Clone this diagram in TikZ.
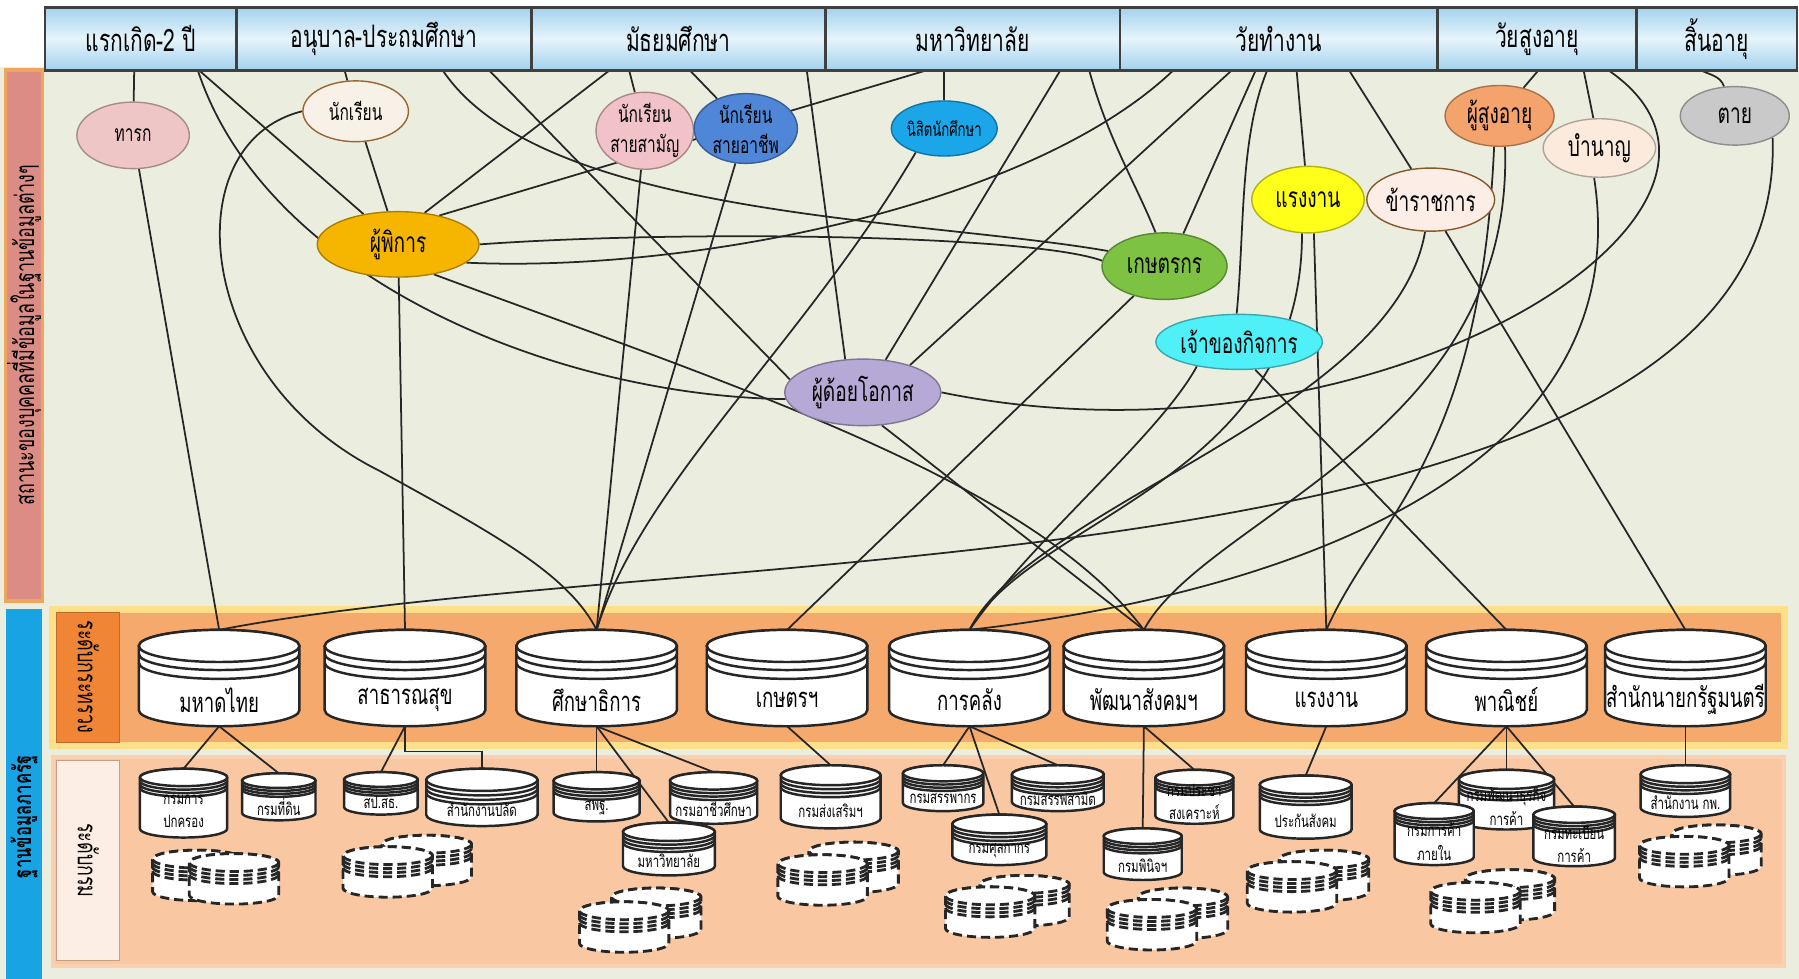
\documentclass[tikz,border=0pt]{standalone}
\usepackage{fontspec}
\newfontfamily\thai[Script=Thai,FakeStretch=0.68]{Loma}
\usetikzlibrary{positioning,shapes.geometric}

\definecolor{bggreen}{HTML}{EBEEDF}
\definecolor{hdrblue}{HTML}{A3D2EE}
\definecolor{hdrlight}{HTML}{E6F4FB}
\definecolor{statusred}{HTML}{DB8D85}
\definecolor{statusedge}{HTML}{EFA55C}
\definecolor{govblue}{HTML}{17A3E4}
\definecolor{ministryband}{HTML}{F6A96C}
\definecolor{ministryedge}{HTML}{FFE08A}
\definecolor{ministrytag}{HTML}{EF8535}
\definecolor{deptband}{HTML}{F9C8A2}
\definecolor{depttag}{HTML}{FCEEE4}
\definecolor{infantpink}{HTML}{EFC6C6}
\definecolor{pupilcream}{HTML}{F8F1E7}
\definecolor{generalpink}{HTML}{F1C3C8}
\definecolor{vocblue}{HTML}{4F86D8}
\definecolor{unicyan}{HTML}{1AA6E8}
\definecolor{disabledgold}{HTML}{F6B600}
\definecolor{farmergreen}{HTML}{7EC243}
\definecolor{underlilac}{HTML}{B6A9D5}
\definecolor{labouryellow}{HTML}{FFFF1A}
\definecolor{civilpeach}{HTML}{FCEDE6}
\definecolor{ownercyan}{HTML}{50F0F8}
\definecolor{elderorange}{HTML}{F3A36B}
\definecolor{pensionpeach}{HTML}{FCEBDC}
\definecolor{deadgrey}{HTML}{C9C9C9}

\pgfdeclarelayer{back}
\pgfdeclarelayer{wires}
\pgfsetlayers{back,wires,main}

\def\u{0.011473cm}

\tikzset{
  agecell/.style={draw=black!75, line width=0.8pt, top color=hdrblue, bottom color=hdrblue,
    middle color=hdrlight, minimum height=55*\u, inner sep=0pt, anchor=north west,
    font=\thai\fontsize{8.8}{10}\selectfont},
  status/.style={ellipse, draw=#1!70!black, fill=#1, inner sep=0pt, align=center,
    font=\thai\fontsize{6.5}{8.5}\selectfont},
  bigstatus/.style={font=\thai\fontsize{8}{10}\selectfont},
  link/.style={draw=black!85, line width=0.5pt},
  cylbody/.style={fill=white, draw=black!85, line width=0.7pt},
  ghost/.style={fill=white, draw=black!85, line width=0.8pt, dash pattern=on 2.6pt off 1.4pt},
  ministrytext/.style={font=\thai\fontsize{7.8}{10}\selectfont, inner sep=0pt},
  depttext/.style={font=\thai\fontsize{4.8}{6.6}\selectfont, inner sep=0pt, align=center},
  sidetext/.style={font=\thai\fontsize{7.5}{9}\selectfont, inner sep=0pt}
}

% cylinder outline: style, cx, top, width, height, ring offsets (in y radii)
\newcommand\cylshape[6]{%
  \pgfmathsetmacro\cylrx{#4/2}%
  \pgfmathsetmacro\cylry{#4/10}%
  \path[#1] (#2-\cylrx,#3+\cylry) -- (#2-\cylrx,#3+#5-\cylry)
    arc[start angle=180,end angle=0,x radius=\cylrx,y radius=\cylry]
    -- (#2+\cylrx,#3+\cylry)
    arc[start angle=0,end angle=-180,x radius=\cylrx,y radius=\cylry] -- cycle;
  \path[#1] (#2,#3+\cylry) ellipse[x radius=\cylrx,y radius=\cylry];
  \foreach \ringk in {#6}
    \path[#1,fill=none] (#2-\cylrx,#3+\cylry+\ringk*\cylry)
      arc[start angle=180,end angle=0,x radius=\cylrx,y radius=\cylry];
}
% ministry: name, cx, label
\newcommand\ministry[3]{%
  \cylshape{cylbody}{#2}{549}{140}{84}{0.5,1.05}
  \coordinate (#1-t) at (#2,549);
  \coordinate (#1-b) at (#2,633);
  \node[ministrytext] (#1) at (#2,610) {#3};
}
% department: [text height factor] name, cx, top, width, height, label
\newcommand\dept[7][0.72]{%
  \cylshape{cylbody}{#3}{#4}{#5}{#6}{0.4,0.8,1.2}
  \coordinate (#2-t) at (#3,#4);
  \node[depttext] (#2) at (#3,#4+#1*#6) {#7};
}
% two dashed placeholders: back cx, back top, front cx, front top
\newcommand\ghostpair[4]{%
  \cylshape{ghost}{#1}{#2}{78}{44}{0.45,0.9,1.35}
  \cylshape{ghost}{#3}{#4}{78}{44}{0.45,0.9,1.35}
}

\begin{document}
\begin{tikzpicture}[x=\u,y=-\u]
\useasboundingbox (0,0) rectangle (1568,853);

%%%%% BANDS
\begin{pgfonlayer}{back}
  \fill[white] (0,0) rectangle (1568,853);
  \fill[bggreen] (0,58) rectangle (1568,853);
  \filldraw[fill=statusred, draw=statusedge, line width=1pt] (5,61) rectangle (37,524);
  \fill[govblue] (5,531) rectangle (37,853);
  \filldraw[fill=ministryband, draw=ministryedge, line width=2pt] (46,531) rectangle (1555,650);
  \filldraw[fill=ministrytag, draw=ministrytag!80!black, line width=0.4pt] (49,534) rectangle (104,647);
  \filldraw[fill=deptband, draw=deptband!85!white, line width=1pt] (46,660) rectangle (1555,842);
  \filldraw[fill=depttag, draw=deptband!80!black, line width=0.4pt] (49,663) rectangle (104,837);
\end{pgfonlayer}

\node[sidetext, rotate=90] (statuslbl) at (21,292) {สถานะของบุคคลที่มีข้อมูลในฐานข้อมูลต่างๆ};
\node[sidetext, rotate=90, font=\thai\bfseries\fontsize{7}{9}\selectfont] (govlbl) at (21,712) {ฐานข้อมูลภาครัฐ};
\node[sidetext, rotate=-90] (ministrylbl) at (77,590) {ระดับกระทรวง};
\node[sidetext, rotate=-90] (deptlbl) at (77,750) {ระดับกรม};

%%%%% AGE HEADER
\node[agecell, minimum width=167*\u] (age1) at (38,5) {แรกเกิด-2 ปี};
\node[agecell, minimum width=257*\u] (age2) at (205,5) {อนุบาล-ประถมศึกษา};
\node[agecell, minimum width=256*\u] (age3) at (462,5) {มัธยมศึกษา};
\node[agecell, minimum width=257*\u] (age4) at (718,5) {มหาวิทยาลัย};
\node[agecell, minimum width=277*\u] (age5) at (975,5) {วัยทำงาน};
\node[agecell, minimum width=173*\u] (age6) at (1252,5) {วัยสูงอายุ};
\node[agecell, minimum width=140*\u] (age7) at (1425,5) {สิ้นอายุ};
\foreach \hx in {117,172,300,385,425,533,548,600,703,812,925,949,1024,1075,1095,1105,1130,1175,1342,1380,1400,1480}
  \coordinate (h\hx) at (\hx,60);

%%%%% STATUS OF PERSONS
\node[status=infantpink, minimum width=98*\u, minimum height=58*\u] (infant) at (116,118) {ทารก};
\node[status=pupilcream, draw=brown!80!black, minimum width=92*\u, minimum height=53*\u] (pupil) at (310,97) {นักเรียน};
\node[status=generalpink, minimum width=84*\u, minimum height=55*\u] (general) at (562,114) {นักเรียน\\สายสามัญ};
\node[status=vocblue, minimum width=90*\u, minimum height=53*\u] (vocational) at (650,112) {นักเรียน\\สายอาชีพ};
\node[status=unicyan, minimum width=88*\u, minimum height=48*\u, font=\thai\fontsize{5.5}{8}\selectfont] (undergrad) at (823,112) {นิสิตนักศึกษา};
\node[status=disabledgold, bigstatus, minimum width=141*\u, minimum height=57*\u] (disabled) at (347,213) {ผู้พิการ};
\node[status=farmergreen, bigstatus, minimum width=109*\u, minimum height=58*\u] (farmer) at (1015,232) {เกษตรกร};
\node[status=underlilac, bigstatus, minimum width=136*\u, minimum height=58*\u] (underpriv) at (752,342) {ผู้ด้อยโอกาส};
\node[status=labouryellow, bigstatus, minimum width=98*\u, minimum height=58*\u] (labour) at (1140,174) {แรงงาน};
\node[status=civilpeach, draw=brown!70!black, bigstatus, minimum width=106*\u, minimum height=55*\u] (civil) at (1247,174) {ข้าราชการ};
\node[status=ownercyan, bigstatus, minimum width=114*\u, minimum height=48*\u] (owner) at (1080,298) {เจ้าของกิจการ};
\node[status=elderorange, bigstatus, minimum width=95*\u, minimum height=53*\u] (elder) at (1307,101) {ผู้สูงอายุ};
\node[status=pensionpeach, bigstatus, minimum width=98*\u, minimum height=51*\u] (pension) at (1394,129) {บำนาญ};
\node[status=deadgrey, bigstatus, minimum width=95*\u, minimum height=51*\u] (dead) at (1512,101) {ตาย};

%%%%% MINISTRIES
\ministry{moi}{191}{มหาดไทย}
\ministry{moph}{353}{สาธารณสุข}
\ministry{moe}{520}{ศึกษาธิการ}
\ministry{moac}{686}{เกษตรฯ}
\ministry{mof}{845}{การคลัง}
\ministry{msdhs}{997}{พัฒนาสังคมฯ}
\ministry{mol}{1156}{แรงงาน}
\ministry{moc}{1313}{พาณิชย์}
\ministry{opm}{1469}{สำนักนายกรัฐมนตรี}

%%%%% DEPARTMENTS
\dept[0.62]{dopa}{160}{670}{76}{60}{กรมการ\\ปกครอง}
\dept{dol}{243}{674}{64}{41}{กรมที่ดิน}
\dept{opsmoph}{332}{673}{64}{37}{สป.สธ.}
\dept{opsoffice}{420}{670}{97}{50}{สำนักงานปลัด}
\dept{obec}{520}{673}{75}{43}{สพฐ.}
\dept{ovec}{622}{673}{76}{45}{กรมอาชีวศึกษา}
\dept{univ}{583}{717}{80}{46}{มหาวิทยาลัย}
\dept{doae}{724}{667}{87}{55}{กรมส่งเสริมฯ}
\dept{rd}{822}{667}{70}{40}{กรมสรรพากร}
\dept{excise}{922}{667}{80}{40}{กรมสรรพสามิต}
\dept{customs}{871}{710}{82}{44}{กรมศุลกากร}
\dept[0.6]{dsdw}{1041}{671}{68}{47}{กรมประชา\\สงเคราะห์}
\dept{djop}{996}{722}{68}{45}{กรมพินิจฯ}
\dept{sso}{1138}{676}{80}{55}{ประกันสังคม}
\dept[0.62]{dbd}{1313}{671}{83}{52}{กรมพัฒนาธุรกิจ\\การค้า}
\dept[0.62]{dit}{1250}{700}{69}{54}{กรมการค้า\\ภายใน}
\dept[0.62]{dtn}{1372}{703}{71}{52}{กรมทะเบียน\\การค้า}
\dept{ocsc}{1469}{667}{78}{45}{สำนักงาน กพ.}

\ghostpair{172}{741}{204}{744}
\ghostpair{372}{728}{338}{738}
\ghostpair{572}{774}{544}{786}
\ghostpair{744}{734}{717}{745}
\ghostpair{893}{763}{863}{773}
\ghostpair{1031}{774}{1004}{784}
\ghostpair{1154}{741}{1126}{751}
\ghostpair{1316}{758}{1286}{769}
\ghostpair{1496}{719}{1468}{729}

%%%%% LINKS
\begin{pgfonlayer}{wires}
  % header to status
  \draw[link] (h117) -- (infant);
  \draw[link] (h300) -- (pupil);
  \draw[link] (h548) -- (general);
  \draw[link] (h600) -- (vocational);
  \draw[link] (undergrad.north) -- (undergrad.north |- h812);
  \draw[link] (h1130) -- (labour);
  \draw[link] (h1175) -- (civil);
  \draw[link] (h1342) -- (elder);
  \draw[link] (h1380) -- (pension);
  \draw[link] (h1480) to[out=-30,in=110] (dead);
  \draw[link] (h172) -- (disabled);
  \draw[link] (h172) .. controls (230,240) and (480,345) .. (underpriv.185);
  \draw[link] (h425) -- (underpriv.170);
  \draw[link] (h385) .. controls (470,190) and (800,190) .. (farmer.165);
  \draw[link] (h533) -- (disabled.50);
  \draw[link] (h703) -- (underpriv.118);
  \draw[link] (h812) -- (disabled.35);
  \draw[link] (h925) -- (underpriv.55);
  \draw[link] (h949) .. controls (965,120) and (990,160) .. (farmer.105);
  \draw[link] (h1024) .. controls (900,180) and (600,238) .. (disabled.-15);
  \draw[link] (h1075) -- (underpriv.30);
  \draw[link] (h1095) -- (farmer.60);
  \draw[link] (h1105) .. controls (1080,120) and (1085,200) .. (owner.95);
  \draw[link] (h1400) .. controls (1580,180) and (1200,420) .. (underpriv.east);
  \draw[link] (disabled.east) .. controls (600,200) and (900,205) .. (farmer.175);
  \draw[link] (pupil) -- (disabled);
  % status to ministries
  \draw[link] (infant) -- (moi-t);
  \draw[link] (disabled) -- (moph-t);
  \draw[link] (pupil.west) .. controls (150,125) and (170,330) .. (330,410)
    .. controls (430,465) and (495,500) .. (moe-t);
  \draw[link] (general) -- (moe-t);
  \draw[link] (vocational) -- (moe-t);
  \draw[link] (undergrad.220) .. controls (700,300) and (560,420) .. (moe-t);
  \draw[link] (farmer) -- (moac-t);
  \draw[link] (disabled.-40) .. controls (650,340) and (900,420) .. (msdhs-t);
  \draw[link] (underpriv.-60) -- (msdhs-t);
  \draw[link] (labour.-100) .. controls (1135,420) and (900,450) .. (mof-t);
  \draw[link] (labour.-80) -- (mol-t);
  \draw[link] (civil.-100) .. controls (1215,360) and (900,440) .. (mof-t);
  \draw[link] (civil.-65) -- (opm-t);
  \draw[link] (owner.-150) .. controls (1010,380) and (900,470) .. (mof-t);
  \draw[link] (owner.-60) -- (moc-t);
  \draw[link] (elder.-100) .. controls (1290,400) and (1200,450) .. (mol-t);
  \draw[link] (elder.-80) .. controls (1320,380) and (1050,450) .. (msdhs-t);
  \draw[link] (pension.-100) .. controls (1430,420) and (1100,520) .. (mof-t);
  \draw[link] (dead.-30) .. controls (1560,520) and (600,470) .. (moi-t);
  % ministries to departments
  \draw[link] (moi-b) -- (dopa-t);
  \draw[link] (moi-b) -- (dol-t);
  \draw[link] (moph-b) -- (opsmoph-t);
  \draw[link] (moph-b) -- ++(0,22) -| (opsoffice-t);
  \draw[link] (moe-b) -- (obec-t);
  \draw[link] (moe-b) -- (univ-t);
  \draw[link] (moe-b) -- (ovec-t);
  \draw[link] (moac-b) -- (doae-t);
  \draw[link] (mof-b) -- (rd-t);
  \draw[link] (mof-b) -- (customs-t);
  \draw[link] (mof-b) -- (excise-t);
  \draw[link] (msdhs-b) -- (djop-t);
  \draw[link] (msdhs-b) -- (dsdw-t);
  \draw[link] (mol-b) -- (sso-t);
  \draw[link] (moc-b) -- (dit-t);
  \draw[link] (moc-b) -- (dbd-t);
  \draw[link] (moc-b) -- (dtn-t);
  \draw[link] (opm-b) -- (ocsc-t);
\end{pgfonlayer}
\end{tikzpicture}
\end{document}
